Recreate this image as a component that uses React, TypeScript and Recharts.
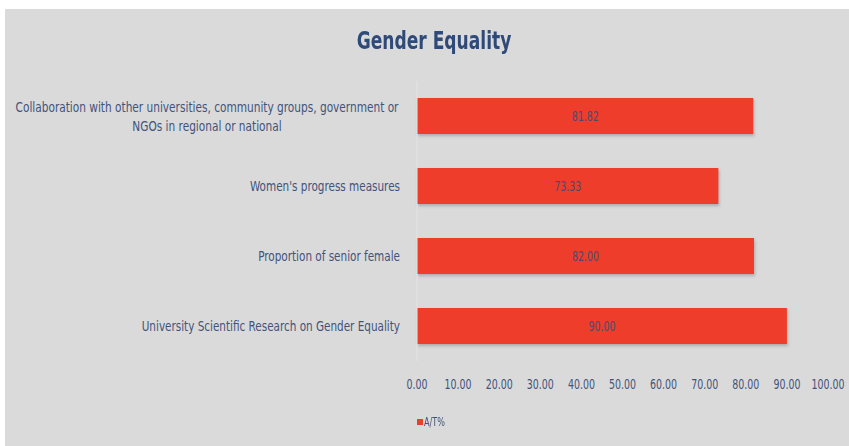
import { Bar, BarChart, LabelList, Legend, XAxis, YAxis } from "recharts";

const categories = [
  ["Collaboration with other universities, community groups, government or", "NGOs in regional or national"],
  ["Women's progress measures"],
  ["Proportion of senior female"],
  ["University Scientific Research on Gender Equality"]
];
const values = [81.82, 73.33, 82.0, 90.0];
const ticks = [0, 10, 20, 30, 40, 50, 60, 70, 80, 90, 100];

const data = categories.map((lines, i) => ({ name: lines.join(" "), lines, value: values[i] }));

const FONT = "'Liberation Sans Narrow', 'DejaVu Sans Condensed', sans-serif";
const TEXT = "#42537a";
const BAR = "#ee3e2a";

// reference uses a tall, narrow font: squeeze the glyphs horizontally
function CategoryTick(props: any) {
  const { x, y, payload, index } = props;
  const lines: string[] = data[index]?.lines ?? [payload.value];
  if (lines.length === 1) {
    return (
      <g transform={`translate(${x - 9},${y}) scale(0.8,1)`}>
        <text x={0} y={0} dy={5} textAnchor="end" fill={TEXT} fontSize={14.5} fontFamily={FONT}>
          {lines[0]}
        </text>
      </g>
    );
  }
  // two-line label: block right aligned, lines centred within it
  return (
    <g transform={`translate(${x - 9 - 193},${y}) scale(0.81,1)`}>
      <text textAnchor="middle" fill={TEXT} fontSize={14.5} fontFamily={FONT}>
        {lines.map((l, k) => (
          <tspan key={k} x={0} y={-9 + k * 19} dy={5}>
            {l}
          </tspan>
        ))}
      </text>
    </g>
  );
}

function ValueTick(props: any) {
  const { x, y, payload } = props;
  return (
    <g transform={`translate(${x},${y}) scale(0.75,1)`}>
      <text x={0} y={0} dy={10} textAnchor="middle" fill={TEXT} fontSize={14} fontFamily={FONT}>
        {Number(payload.value).toFixed(2)}
      </text>
    </g>
  );
}

function BarValue(props: any) {
  const { x, y, width, height, value } = props;
  return (
    <g transform={`translate(${x + width / 2},${y + height / 2}) scale(0.75,1)`}>
      <text x={0} y={0} dy={5} textAnchor="middle" fill="#4b4c70" fontSize={14} fontFamily={FONT}>
        {Number(value).toFixed(2)}
      </text>
    </g>
  );
}

function LegendContent() {
  return (
    <div style={{ display: "flex", alignItems: "center", paddingLeft: 417, fontFamily: FONT, fontSize: 12, color: TEXT }}>
      <span style={{ width: 6, height: 6, background: BAR, display: "inline-block", marginRight: 1 }} />
      <span style={{ display: "inline-block", transform: "scaleX(0.75)", transformOrigin: "0 50%" }}>A/T%</span>
    </div>
  );
}

export default function App() {
  return (
    <div style={{ position: "absolute", left: 0, top: 0, width: 849, height: 446, background: "#ffffff" }}>
      <div style={{ position: "absolute", left: 5, top: 9, width: 844, height: 437, background: "#dadada" }} />
      <div
        style={{
          position: "absolute",
          left: 0,
          top: 26,
          width: 868,
          textAlign: "center",
          fontFamily: FONT,
          fontWeight: 700,
          fontSize: 25,
          color: "#2f4a78",
          transform: "scaleX(0.76)",
          transformOrigin: "434px 50%"
        }}
      >
        Gender Equality
      </div>
      <div style={{ position: "absolute", left: 0, top: 0 }}>
        <BarChart
          width={849}
          height={446}
          data={data}
          layout="vertical"
          margin={{ top: 81, right: 21, left: 0, bottom: 30 }}
          barCategoryGap={17}
        >
          <defs>
            <filter id="barShadow" x="-5%" y="-20%" width="110%" height="160%">
              <feDropShadow dx="1" dy="2" stdDeviation="1.5" floodColor="#555" floodOpacity="0.35" />
            </filter>
          </defs>
          <XAxis
            type="number"
            domain={[0, 100]}
            ticks={ticks}
            axisLine={false}
            tickLine={false}
            tick={<ValueTick />}
            tickMargin={12}
            height={40}
            interval={0}
          />
          <YAxis
            type="category"
            dataKey="name"
            width={417}
            axisLine={{ stroke: "#e4e4e4" }}
            tickLine={false}
            tick={<CategoryTick />}
            interval={0}
          />
          <Legend
            verticalAlign="bottom"
            align="left"
            height={15}
            wrapperStyle={{ bottom: 16 }}
            content={<LegendContent />}
          />
          <Bar dataKey="value" name="A/T%" fill={BAR} isAnimationActive={false} style={{ filter: "url(#barShadow)" }}>
            <LabelList dataKey="value" content={<BarValue />} />
          </Bar>
        </BarChart>
      </div>
    </div>
  );
}
